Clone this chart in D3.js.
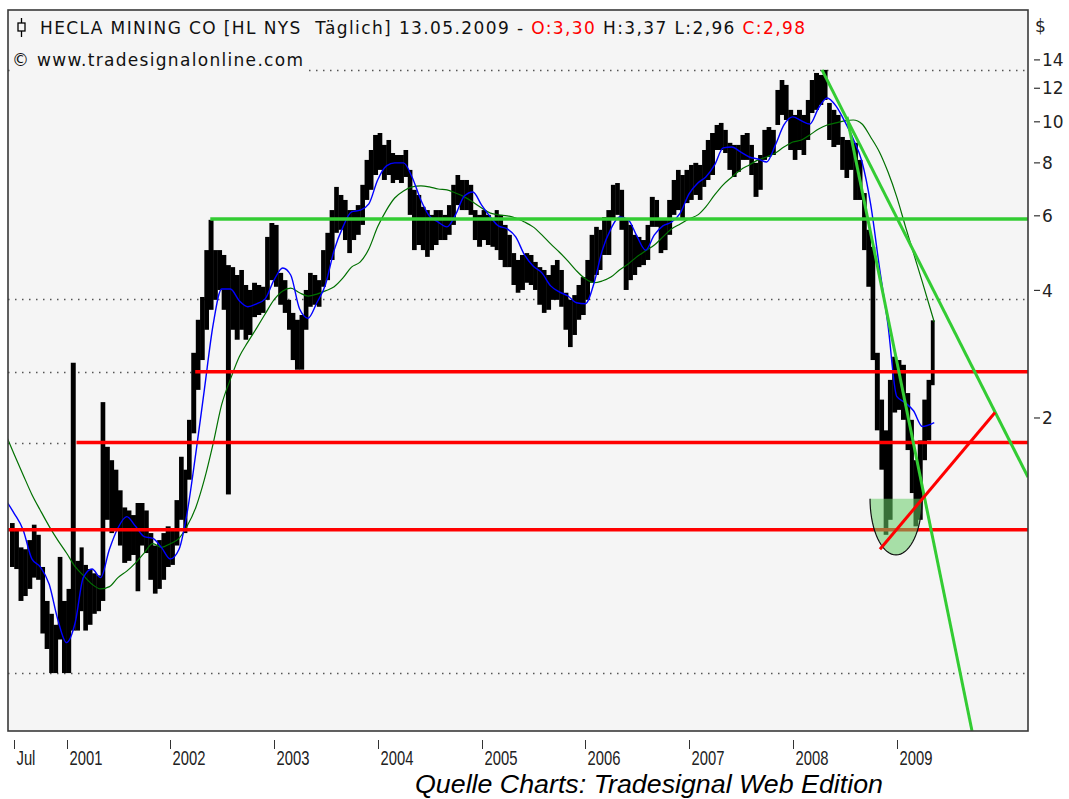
<!DOCTYPE html>
<html>
<head>
<meta charset="utf-8">
<script src="https://cdn.jsdelivr.net/npm/d3@7"></script>
<style>
body { margin: 0; background: #fff; }
</style>
</head>
<body>
<div id="chart"></div>
<script>
// half-month price bars (high / low, $), Jun 16 2000 .. May 1 2009
const barHigh = [1.13,1.09,0.99,0.98,1.03,1.12,1.06,0.89,0.74,0.69,
0.65,0.94,0.74,0.79,2.70,0.92,0.99,0.90,0.88,0.86,
0.85,2.18,1.71,1.59,1.51,1.35,1.23,1.21,1.18,1.26,
1.26,1.21,1.07,1.00,1.03,1.07,1.11,1.09,1.28,1.62,
1.51,1.98,2.85,3.41,3.86,4.98,5.87,4.98,4.98,4.85,
4.59,4.54,4.35,4.47,4.12,4.01,4.17,4.12,4.08,5.35,
5.77,5.71,4.40,4.23,3.80,3.54,3.41,3.50,4.01,4.40,
4.35,4.23,4.98,5.47,6.19,7.02,6.72,6.54,6.19,6.19,
6.36,7.10,8.13,8.58,9.31,9.41,8.82,9.06,8.44,8.35,
8.35,8.58,7.70,6.91,6.72,6.30,6.19,6.03,6.19,6.19,
6.03,6.36,7.10,7.49,7.29,7.29,7.10,6.19,6.03,6.19,
6.03,5.87,6.19,6.03,5.71,5.41,4.90,4.72,4.85,4.90,
4.85,4.67,4.54,4.47,4.35,4.59,4.72,4.47,3.95,3.80,
3.90,4.12,4.30,4.72,5.41,5.65,5.56,5.96,6.19,7.10,
7.17,6.91,5.87,5.71,5.41,5.35,5.26,5.71,6.65,6.54,
5.87,5.87,6.54,7.29,7.70,7.49,7.70,7.91,8.00,7.91,
8.58,9.06,9.41,9.83,9.94,9.57,8.92,8.82,8.82,9.31,
9.41,8.82,8.00,8.35,9.57,9.72,9.57,11.89,12.55,12.22,
10.67,10.38,10.67,10.38,11.26,12.55,13.04,12.90,13.26,11.08,
10.67,10.38,9.21,9.06,9.06,8.92,8.13,6.79,5.56,5.07,
2.85,2.21,1.87,2.46,2.79,2.74,2.67,2.29,1.98,1.59,
1.77,2.21,2.46,3.40];
const barLow = [0.89,0.88,0.74,0.76,0.79,0.84,0.83,0.62,0.57,0.50,
0.50,0.60,0.50,0.50,0.63,0.63,0.70,0.63,0.65,0.69,
0.70,0.74,1.15,1.07,1.09,1.00,0.91,0.92,0.95,0.78,
1.00,0.96,0.83,0.77,0.79,0.83,0.89,0.90,1.00,1.15,
1.07,1.43,1.84,2.33,2.74,3.23,3.60,3.80,4.01,3.60,
1.32,3.23,3.06,3.23,3.06,3.14,3.46,3.50,3.54,3.80,
4.23,4.08,3.70,3.54,3.23,2.74,2.60,2.60,3.23,3.66,
3.70,3.66,4.08,4.23,4.72,5.47,5.56,5.26,4.90,5.26,
5.41,5.71,6.54,6.91,7.49,7.70,7.29,7.49,7.17,7.29,
7.17,7.41,6.03,4.98,5.12,4.98,4.80,4.98,5.12,5.26,
5.26,5.41,5.71,6.36,6.19,6.19,6.03,5.26,5.07,5.26,
5.12,5.07,4.98,4.72,4.54,4.54,4.12,3.95,4.01,4.17,
4.12,4.01,3.70,3.54,3.60,3.80,3.80,3.66,3.23,2.94,
3.14,3.41,3.50,3.80,4.17,4.35,4.47,4.85,4.85,5.87,
6.03,5.56,4.01,4.23,4.35,4.54,4.59,4.72,5.65,5.65,
4.90,4.98,5.41,6.03,6.19,5.87,6.43,6.54,6.72,6.54,
7.02,7.29,7.49,8.58,8.58,8.44,7.70,7.41,7.62,8.13,
8.13,7.49,6.65,6.91,8.13,8.26,8.35,9.83,10.38,10.10,
8.58,8.13,8.58,8.35,9.06,10.49,10.67,10.96,11.26,9.06,
8.72,8.82,7.70,7.37,7.70,6.54,6.54,4.98,4.08,2.74,
1.87,1.51,1.06,1.15,2.06,2.09,1.98,1.68,1.33,1.11,
1.15,1.59,1.77,2.39];

// moving averages read monthly (1st of month, Jun 2000 .. Apr 2009, then 13.05.2009)
const maFast = [1.28,1.19,1.09,0.93,0.89,0.81,0.67,0.59,0.66,0.84,
0.88,0.84,0.98,1.10,1.17,1.11,1.05,1.04,0.99,0.93,
0.98,1.19,1.65,2.33,3.32,4.03,4.03,3.78,3.66,3.72,
3.82,4.23,4.52,4.35,3.62,3.44,3.74,4.12,4.98,5.65,
6.13,6.19,6.40,7.29,7.87,8.00,8.00,7.41,6.54,6.00,
5.80,5.65,6.03,6.68,6.83,6.36,5.96,5.68,5.59,5.35,
4.85,4.57,4.40,4.10,3.97,3.88,3.74,3.72,4.17,4.96,
5.59,5.96,5.87,5.38,4.98,5.41,5.68,5.80,6.09,6.76,
7.17,7.41,7.91,8.68,8.72,8.49,8.26,8.17,8.04,8.82,
9.83,10.27,10.05,9.88,10.78,11.38,10.90,10.05,9.11,8.04,
6.40,4.54,3.32,2.25,2.17,2.08,1.91,1.95];
const maSlow = [1.83,1.64,1.47,1.32,1.21,1.11,1.03,0.96,0.89,0.85,
0.81,0.79,0.80,0.84,0.87,0.91,0.96,1.01,0.99,1.01,
1.04,1.11,1.23,1.43,1.74,2.15,2.47,2.79,3.02,3.26,
3.52,3.80,3.99,4.05,3.95,3.88,3.92,3.99,4.08,4.28,
4.54,4.67,5.01,5.65,6.19,6.61,6.87,7.02,7.06,7.02,
6.94,6.91,6.79,6.65,6.47,6.26,6.09,6.03,6.00,5.93,
5.80,5.65,5.41,5.15,4.93,4.69,4.45,4.26,4.17,4.21,
4.30,4.47,4.62,4.80,4.96,5.12,5.35,5.59,5.74,5.90,
6.03,6.30,6.72,7.10,7.41,7.70,7.91,8.13,8.26,8.44,
8.72,8.96,9.06,9.31,9.62,9.83,9.94,10.05,10.10,9.88,
9.21,8.49,7.62,6.65,5.65,4.90,4.19,3.37];

// horizontal levels
const levelPrices = [5.90, 2.57, 1.75, 1.09];
const levelStart = ["2002-05-22", "2002-03-30", "2001-02-05", "2000-06-09"];
const levelColors = ["#33cc33", "#ff0000", "#ff0000", "#ff0000"];
const dottedPrices = [13.26, 3.82, 0.50, 2.57, 1.75];
const dottedEnd = ["2010-04-08", "2010-04-08", "2010-04-08", "2002-03-30", "2001-02-05"];

// trend lines: [date, price] pairs
const trendLines = [
  { color: "#33cc33", pts: [["2008-04-13", 13.26], ["2010-04-08", 1.45]] },
  { color: "#33cc33", pts: [["2008-07-10", 10.27], ["2009-09-23", 0.365]] },
  { color: "#ff0000", pts: [["2008-11-03", 0.98], ["2009-12-13", 2.06]] }
];
const saucer = { start: "2008-09-29", end: "2009-03-31", top: 1.29, bottom: 0.95 };

const yTicks = [14, 12, 10, 8, 6, 4, 2];
const xTickDates = ["2000-07-01","2001-01-01","2002-01-01","2003-01-01","2004-01-01","2005-01-01",
  "2006-01-01","2007-01-01","2008-01-01","2009-01-01"];
const xTickLabels = ["Jul","2001","2002","2003","2004","2005","2006","2007","2008","2009"];

const parse = d3.timeParse("%Y-%m-%d");
const lastDate = parse("2009-05-13");

// bar dates: 1st and 16th of each month
let months = d3.timeMonth.range(new Date(2000, 5, 1), new Date(2009, 5, 1));
let barDates = months.flatMap(m => [m, new Date(m.getFullYear(), m.getMonth(), 16)])
  .filter(d => d >= new Date(2000, 5, 16) && d <= new Date(2009, 4, 1));
let maDates = months.slice(0, months.length - 1).concat([lastDate]);

const W = 1069, H = 799;
const pLeft = 8, pRight = 1028, pTop = 10, pBottom = 731;

let svg = d3.select("#chart").append("svg")
  .attr("width", W).attr("height", H);

let x = d3.scaleTime().domain([new Date(2000, 5, 9), new Date(2010, 3, 8)]).range([pLeft, pRight]);
let y = d3.scaleLog().domain([0.365, 18.36]).range([pBottom, pTop]);

svg.append("defs").append("clipPath").attr("id", "clip")
  .append("rect").attr("x", pLeft).attr("y", pTop).attr("width", pRight - pLeft).attr("height", pBottom - pTop);

svg.append("rect")
  .attr("x", pLeft).attr("y", pTop).attr("width", pRight - pLeft).attr("height", pBottom - pTop)
  .attr("fill", "#f5f5f5");

let plot = svg.append("g").attr("clip-path", "url(#clip)");

// dotted levels
dottedPrices.forEach((p, i) => {
  plot.append("line")
    .attr("x1", pLeft).attr("x2", x(parse(dottedEnd[i])))
    .attr("y1", Math.round(y(p)) + 0.5).attr("y2", Math.round(y(p)) + 0.5)
    .attr("stroke", "#555").attr("stroke-width", 1.5)
    .attr("stroke-dasharray", "1.5,5.5");
});

// price bars
const n = Math.min(barDates.length, barHigh.length, barLow.length);
plot.append("g").selectAll("rect")
  .data(d3.range(n))
  .join("rect")
  .attr("x", i => x(barDates[i]))
  .attr("width", i => x(i < n - 1 ? barDates[i + 1] : lastDate) - x(barDates[i]) + 0.4)
  .attr("y", i => y(barHigh[i]))
  .attr("height", i => y(barLow[i]) - y(barHigh[i]))
  .attr("fill", "#000");

let maLine = d3.line()
  .x((d, i) => x(maDates[i]))
  .y(d => y(d))
  .curve(d3.curveMonotoneX);

plot.append("path").attr("d", maLine(maSlow))
  .attr("fill", "none").attr("stroke", "#007000").attr("stroke-width", 1.2);
plot.append("path").attr("d", maLine(maFast))
  .attr("fill", "none").attr("stroke", "#0000ff").attr("stroke-width", 1.4);

// horizontal levels
levelPrices.forEach((p, i) => {
  plot.append("line")
    .attr("x1", x(parse(levelStart[i]))).attr("x2", pRight)
    .attr("y1", y(p)).attr("y2", y(p))
    .attr("stroke", levelColors[i]).attr("stroke-width", 3.5);
});

// saucer
let s0 = x(parse(saucer.start)), s1 = x(parse(saucer.end));
let sy0 = y(saucer.top), sy1 = y(saucer.bottom);
let cx = (s0 + s1) / 2, rx = (s1 - s0) / 2, ry = sy1 - sy0;
let arcPts = d3.range(0, 181, 5).map(a => {
  let t = a * Math.PI / 180;
  return [cx - rx * Math.cos(t), sy0 + ry * Math.sin(t)];
});
plot.append("path").attr("d", d3.line()(arcPts) + "Z")
  .attr("fill", "#66cc66").attr("fill-opacity", 0.55);
plot.append("path").attr("d", d3.line()(arcPts))
  .attr("fill", "none").attr("stroke", "#111").attr("stroke-width", 1.2);

// trend lines
trendLines.forEach(t => {
  plot.append("line")
    .attr("x1", x(parse(t.pts[0][0]))).attr("y1", y(t.pts[0][1]))
    .attr("x2", x(parse(t.pts[1][0]))).attr("y2", y(t.pts[1][1]))
    .attr("stroke", t.color).attr("stroke-width", 3);
});

// frame
svg.append("rect")
  .attr("x", pLeft).attr("y", pTop).attr("width", pRight - pLeft).attr("height", pBottom - pTop)
  .attr("fill", "none").attr("stroke", "#3a3a3a").attr("stroke-width", 1.6);

// right axis
let ya = svg.append("g");
yTicks.forEach(v => {
  ya.append("line").attr("x1", 1034).attr("x2", 1040)
    .attr("y1", y(v)).attr("y2", y(v)).attr("stroke", "#333").attr("stroke-width", 1.2);
  ya.append("text").attr("x", 1042).attr("y", y(v)).attr("dy", "0.36em")
    .attr("font-family", "DejaVu Sans").attr("font-size", 17).attr("fill", "#222")
    .text(v);
});
ya.append("text").attr("x", 1035).attr("y", 32)
  .attr("font-family", "DejaVu Sans").attr("font-size", 17).attr("fill", "#222").text("$");

// bottom axis
let xa = svg.append("g");
xTickDates.forEach((d, i) => {
  let px = Math.round(x(parse(d))) + 0.5;
  xa.append("line").attr("x1", px).attr("x2", px).attr("y1", 740).attr("y2", 749)
    .attr("stroke", "#333").attr("stroke-width", 1);
  xa.append("text")
    .attr("transform", `translate(${px + 2},765) scale(0.74,1)`)
    .attr("font-family", "Liberation Sans, Arial").attr("font-size", 20).attr("fill", "#222")
    .text(xTickLabels[i]);
});

// header
svg.append("line").attr("x1", 21.5).attr("x2", 21.5).attr("y1", 18).attr("y2", 37)
  .attr("stroke", "#000").attr("stroke-width", 1.3);
svg.append("rect").attr("x", 18).attr("y", 23).attr("width", 7).attr("height", 8)
  .attr("fill", "#f5f5f5").attr("stroke", "#000").attr("stroke-width", 1.3);

let title = svg.append("text").attr("x", 40).attr("y", 34)
  .attr("font-family", "DejaVu Sans").attr("font-size", 17).attr("fill", "#111")
  .attr("textLength", 765).attr("lengthAdjust", "spacing");
title.append("tspan").text("HECLA MINING CO [HL NYS\u00a0 Täglich] 13.05.2009 - ");
title.append("tspan").attr("fill", "#ff0000").text("O:3,30");
title.append("tspan").text(" H:3,37 L:2,96 ");
title.append("tspan").attr("fill", "#ff0000").text("C:2,98");

svg.append("rect").attr("x", 10).attr("y", 47).attr("width", 294).attr("height", 26).attr("fill", "#f5f5f5");
svg.append("text").attr("x", 12).attr("y", 66)
  .attr("font-family", "DejaVu Sans").attr("font-size", 17).attr("fill", "#111")
  .attr("textLength", 291).attr("lengthAdjust", "spacing")
  .text("© www.tradesignalonline.com");

svg.append("text").attr("x", 415).attr("y", 793)
  .attr("font-family", "Liberation Sans, Arial").attr("font-style", "italic")
  .attr("font-size", 25).attr("fill", "#000")
  .attr("textLength", 468).attr("lengthAdjust", "spacingAndGlyphs")
  .text("Quelle Charts: Tradesignal Web Edition");
</script>
</body>
</html>
